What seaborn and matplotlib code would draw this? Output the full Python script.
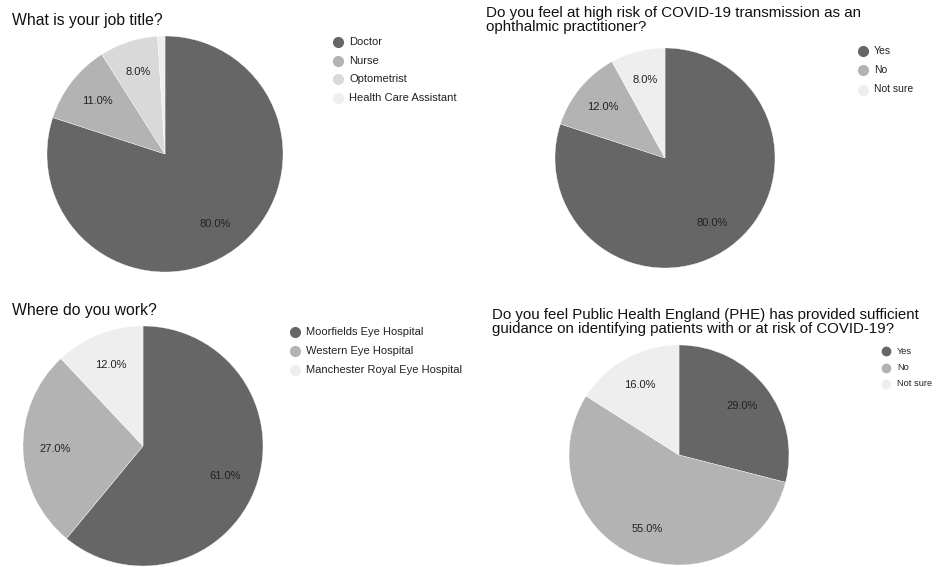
import matplotlib
matplotlib.use("Agg")
import matplotlib.pyplot as plt
import seaborn as sns
from matplotlib.lines import Line2D

# ---------------- data ----------------
job_labels = ["Doctor", "Nurse", "Optometrist", "Health Care Assistant"]
job_values = [80, 11, 8, 1]

risk_labels = ["Yes", "No", "Not sure"]
risk_values = [80, 12, 8]

work_labels = ["Moorfields Eye Hospital", "Western Eye Hospital", "Manchester Royal Eye Hospital"]
work_values = [61, 27, 12]

phe_labels = ["Yes", "No", "Not sure"]
phe_values = [29, 55, 16]

titles = [
    "What is your job title?",
    "Do you feel at high risk of COVID-19 transmission as an\nophthalmic practitioner?",
    "Where do you work?",
    "Do you feel Public Health England (PHE) has provided sufficient\nguidance on identifying patients with or at risk of COVID-19?",
]

colors4 = ["#666666", "#b3b3b3", "#d9d9d9", "#eeeeee"]
colors3 = ["#666666", "#b3b3b3", "#eeeeee"]

sns.set_theme(style="white")
plt.rcParams["font.family"] = ["Liberation Sans", "DejaVu Sans"]

W, H = 946, 567
fig = plt.figure(figsize=(W / 100, H / 100), dpi=100)


def fx(px):
    return px / W


def fy(py):
    return 1 - py / H


def pie_axes(cx, cy, r):
    ax = fig.add_axes([fx(cx - r), fy(cy + r), 2 * r / W, 2 * r / H])
    return ax


def draw_pie(ax, values, colors, label_fs):
    wedges, texts, autotexts = ax.pie(
        values,
        colors=colors,
        startangle=90,
        counterclock=False,
        autopct=lambda p: f"{p:.1f}%" if p >= 5 else "",
        pctdistance=0.73,
        radius=1.0,
        wedgeprops=dict(edgecolor="white", linewidth=0.25),
        textprops=dict(fontsize=label_fs, color="#222222"),
    )
    ax.set_xlim(-1.0, 1.0)
    ax.set_ylim(-1.0, 1.0)
    ax.set_aspect("auto")
    ax.axis("off")


def draw_legend(x_marker, y_first, step, labels, colors, fs, msize, gap):
    for i, (lab, col) in enumerate(zip(labels, colors)):
        y = y_first + i * step
        fig.add_artist(Line2D([fx(x_marker)], [fy(y)], transform=fig.transFigure,
                              marker="o", markersize=msize, color=col, linestyle="none"))
        fig.text(fx(x_marker + gap), fy(y), lab, fontsize=fs, color="#222222",
                 va="center", ha="left")


# Pie 1
ax1 = pie_axes(165, 154, 118)
draw_pie(ax1, job_values, colors4, 8)
fig.text(fx(12), fy(20), titles[0], fontsize=11.3, color="#111111", va="center", ha="left")
draw_legend(338, 42, 18.7, job_labels, colors4, 8, 7, 11)

# Pie 2
ax2 = pie_axes(665, 158, 110)
draw_pie(ax2, risk_values, colors3, 8)
fig.text(fx(486), fy(19.5), titles[1], fontsize=10.9, color="#111111", va="center", ha="left",
         linespacing=1.0)
draw_legend(863, 50.5, 19.5, risk_labels, colors3, 7.5, 7, 11)

# Pie 3
ax3 = pie_axes(143, 446, 120)
draw_pie(ax3, work_values, colors3, 8)
fig.text(fx(12), fy(311), titles[2], fontsize=11.3, color="#111111", va="center", ha="left")
draw_legend(295, 332, 19, work_labels, colors3, 8, 7, 11)

# Pie 4
ax4 = pie_axes(679, 455, 110)
draw_pie(ax4, phe_values, colors3, 8)
fig.text(fx(492), fy(322.5), titles[3], fontsize=10.8, color="#111111", va="center", ha="left",
         linespacing=1.0)
draw_legend(886, 351, 16.5, phe_labels, colors3, 6.7, 6, 11)

fig.savefig("out.png", dpi=100, facecolor="white")
